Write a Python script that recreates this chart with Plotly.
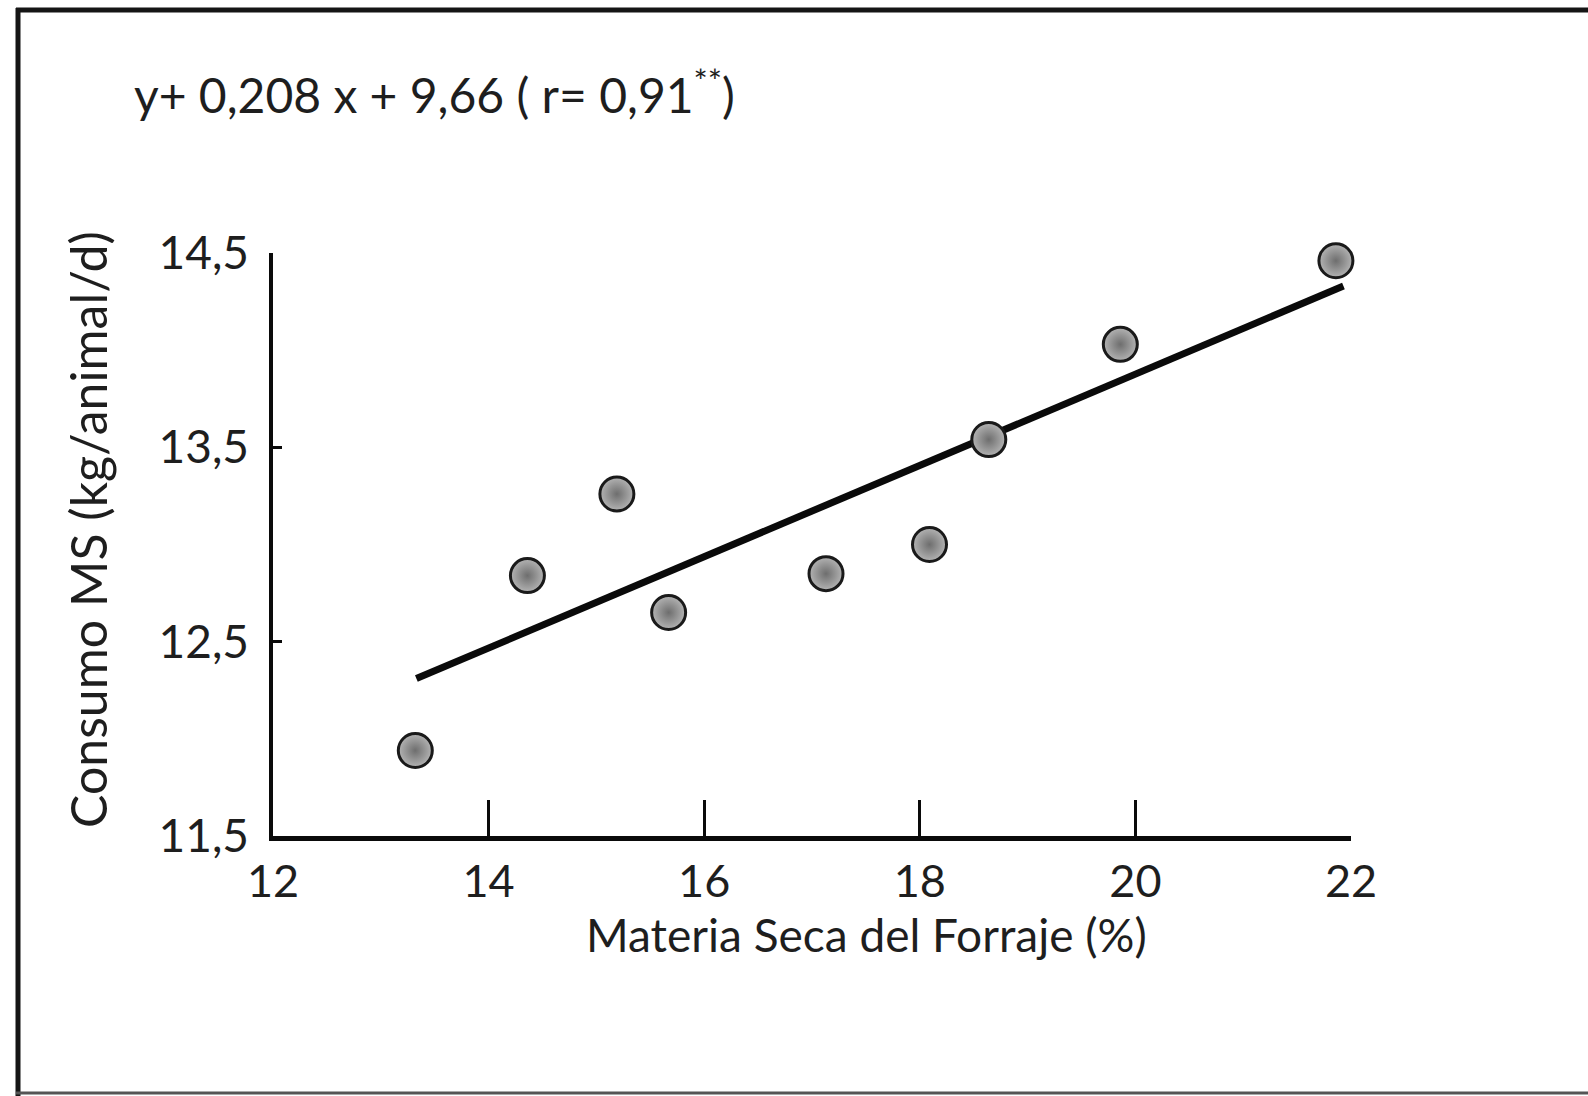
import plotly.graph_objects as go

# Data
materia_seca = [13.32, 14.36, 15.19, 15.67, 17.13, 18.09, 18.64, 19.86, 21.86]
consumo_ms = [11.94, 12.84, 13.26, 12.65, 12.85, 13.00, 13.54, 14.03, 14.46]
fit_x = [13.33, 21.93]
fit_y = [12.31, 14.33]
x_ticks = [12, 14, 16, 18, 20, 22]
y_ticks = [11.5, 12.5, 13.5, 14.5]
y_tick_labels = ["11,5", "12,5", "13,5", "14,5"]
equation_text = "y+ 0,208 x + 9,66 ( r= 0,91<sup>**</sup>)"
x_title = "Materia Seca del Forraje (%)"
y_title = "Consumo MS (kg/animal/d)"

W, H = 1588, 1096
L, R, T, B = 273, 237, 253, 260
pw, ph = W - L - R, H - T - B

def px(x):
    return (x - L) / pw

def py(y):
    return (H - B - y) / ph

FONT = "Lato, 'Open Sans', sans-serif"
TXT = "#1e1e1e"

fig = go.Figure()
fig.add_trace(go.Scatter(
    x=fit_x, y=fit_y, mode="lines",
    line=dict(color="#0a0a0a", width=7),
    hoverinfo="skip", showlegend=False, cliponaxis=False,
))
fig.add_trace(go.Scatter(
    x=materia_seca, y=consumo_ms, mode="markers",
    marker=dict(size=34, color="#b4b4b4",
                gradient=dict(type="radial", color="#6e6e6e"),
                line=dict(color="#1a1a1a", width=3)),
    showlegend=False, cliponaxis=False,
))

fig.update_layout(
    width=W, height=H,
    margin=dict(l=L, r=R, t=T, b=B, pad=0),
    paper_bgcolor="white", plot_bgcolor="white",
    font=dict(family=FONT, color=TXT, size=46),
    xaxis=dict(
        range=[12, 22], tickvals=x_ticks, ticktext=[str(v) for v in x_ticks],
        showgrid=False, zeroline=False, showline=True, linecolor="#0a0a0a", linewidth=5,
        ticks="inside", ticklen=36, tickwidth=2.5, tickcolor="#0a0a0a",
        tickfont=dict(size=45, color=TXT), ticklabelstandoff=2,
    ),
    yaxis=dict(
        range=[11.5, 14.5], tickvals=y_ticks, ticktext=y_tick_labels,
        showgrid=False, zeroline=False, showline=True, linecolor="#0a0a0a", linewidth=3.5,
        ticks="inside", ticklen=9, tickwidth=2.5, tickcolor="#0a0a0a",
        tickfont=dict(size=46, color=TXT), ticklabelstandoff=11,
    ),
    annotations=[
        dict(text=equation_text, xref="paper", yref="paper", x=px(132), y=py(91),
             xanchor="left", yanchor="middle", showarrow=False,
             font=dict(size=48, color=TXT, family=FONT)),
        dict(text=x_title, xref="paper", yref="paper", x=px(866), y=py(934),
             xanchor="center", yanchor="middle", showarrow=False,
             font=dict(size=46, color=TXT, family=FONT)),
        dict(text=y_title, xref="paper", yref="paper", x=px(88), y=py(530),
             xanchor="center", yanchor="middle", showarrow=False, textangle=-90,
             font=dict(size=50, color=TXT, family=FONT)),
    ],
    shapes=[
        dict(type="line", xref="paper", yref="paper", x0=px(16), x1=px(1588), y0=py(10), y1=py(10),
             line=dict(color="#151515", width=5)),
        dict(type="line", xref="paper", yref="paper", x0=px(18), x1=px(18), y0=py(8), y1=py(1096),
             line=dict(color="#151515", width=5)),
        dict(type="line", xref="paper", yref="paper", x0=px(16), x1=px(1588), y0=py(1093), y1=py(1093),
             line=dict(color="#555555", width=3)),
    ],
)

fig.write_html("out.html")
